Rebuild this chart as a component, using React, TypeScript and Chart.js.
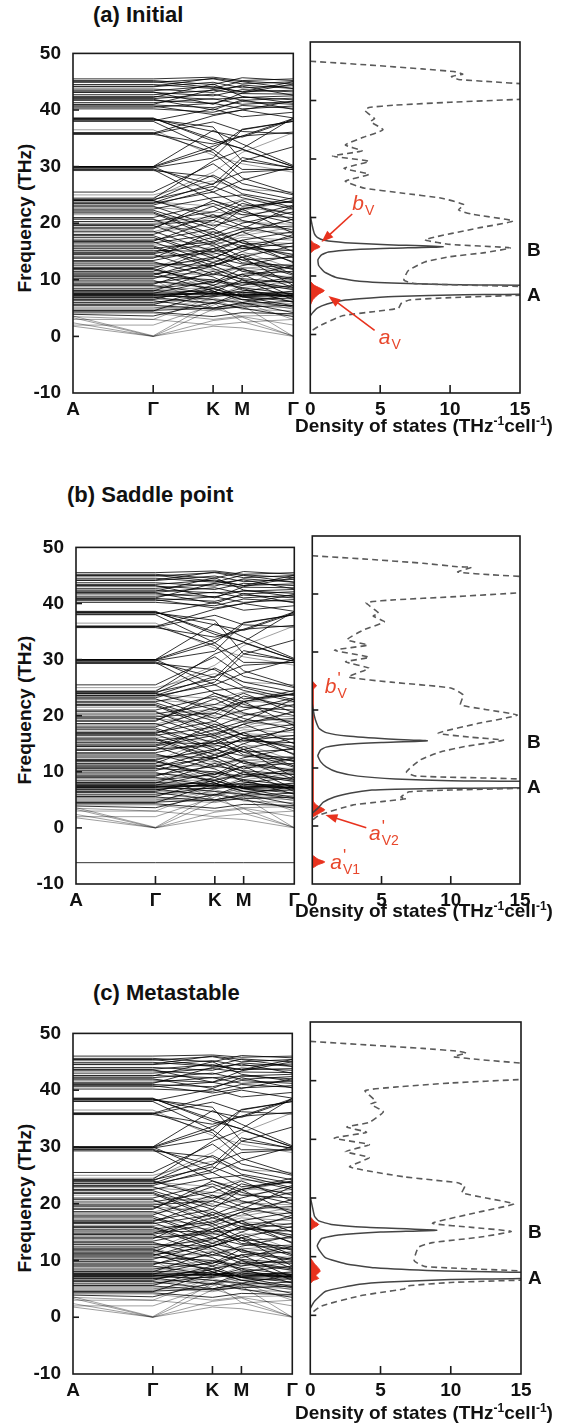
import React, { useEffect, useRef } from "react";
import { Chart, registerables } from "chart.js";

Chart.register(...registerables);

const FONT = '"Liberation Sans", Arial, Helvetica, sans-serif';
const RED = "#e8321e";
const RED_TEXT = "#e8472c";

// ---------- band-structure data: [A, Γ, K, M, Γ] ----------
const K_POS = [0, 0.364, 0.636, 0.768, 1];
const K_LABELS = ["A", "Γ", "K", "M", "Γ"];
const FREQ_TICKS = [-10, 0, 10, 20, 30, 40, 50];
const DOS_TICKS = [0, 5, 10, 15];

const TOP_A = [
  [45.5, 45.5, 45.8, 45.2, 45.5], [45.2, 45.2, 44.5, 45.7, 45.2], [44.9, 44.9, 45.5, 44.6, 45.0],
  [44.5, 44.5, 43.8, 45.1, 44.6], [44.1, 44.1, 44.9, 43.9, 44.3], [43.7, 43.7, 43.1, 44.4, 43.8],
  [43.4, 43.4, 44.2, 43.2, 43.5], [43.1, 43.1, 42.5, 43.6, 43.2], [42.7, 42.7, 43.5, 42.9, 42.8],
  [42.4, 42.4, 41.9, 42.2, 42.5], [42.0, 42.0, 42.8, 41.7, 42.1], [41.7, 41.7, 41.2, 42.3, 41.8],
  [41.3, 41.3, 42.0, 41.0, 41.5], [40.9, 40.9, 40.4, 41.5, 41.0], [40.5, 40.5, 41.2, 40.2, 40.7],
  [40.2, 40.2, 39.6, 40.8, 40.3], [45.0, 45.0, 44.0, 43.2, 45.0], [44.2, 44.2, 45.6, 45.0, 43.8],
  [43.2, 43.2, 41.0, 43.0, 44.6], [42.2, 42.2, 44.6, 42.4, 41.2], [41.0, 41.0, 43.6, 44.2, 42.6],
  [40.7, 40.7, 39.2, 40.0, 41.6], [41.9, 41.9, 40.0, 41.8, 40.1],
];
const TOP_C = [
  [46.0, 46.0, 46.2, 45.8, 46.0], [45.6, 45.6, 45.0, 46.1, 45.7], [45.3, 45.3, 45.9, 45.0, 45.4],
  [44.9, 44.9, 44.2, 45.5, 45.0], [44.5, 44.5, 45.2, 44.3, 44.6], [44.0, 44.0, 43.5, 44.8, 44.2],
  [43.7, 43.7, 44.5, 43.6, 43.8], [43.4, 43.4, 42.8, 43.9, 43.5], [43.0, 43.0, 43.8, 43.2, 43.1],
  [42.6, 42.6, 42.2, 42.5, 42.8], [42.2, 42.2, 43.0, 41.9, 42.4], [41.8, 41.8, 41.4, 42.5, 42.0],
  [41.4, 41.4, 42.2, 41.2, 41.6], [41.0, 41.0, 40.6, 41.7, 41.2], [40.6, 40.6, 41.4, 40.4, 40.8],
  [40.2, 40.2, 39.8, 41.0, 40.5], [45.4, 45.4, 44.3, 43.6, 45.4], [44.6, 44.6, 46.0, 45.4, 44.2],
  [43.6, 43.6, 41.4, 43.4, 45.0], [42.5, 42.5, 45.0, 42.8, 41.6], [41.2, 41.2, 44.0, 44.6, 43.0],
  [40.8, 40.8, 39.5, 40.3, 42.0], [42.0, 42.0, 40.3, 42.2, 40.4],
];
const BANDS_MID = [
  [38.6, 38.6, 34.5, 33.2, 38.6], [38.4, 38.4, 36.2, 35.2, 38.3], [38.1, 38.1, 40.2, 38.8, 39.6],
  [38.0, 38.0, 33.0, 36.6, 38.0], [38.5, 38.5, 34.9, 33.1, 30.0], [30.0, 30.0, 33.6, 35.4, 38.5],
  [35.8, 35.8, 37.9, 36.2, 35.8], [35.7, 35.7, 34.0, 35.4, 36.1], [30.0, 30.0, 36.4, 34.0, 30.2],
  [30.0, 30.0, 25.5, 27.6, 30.0], [29.9, 29.9, 33.0, 29.5, 29.5], [29.6, 29.6, 26.8, 31.6, 29.7],
  [29.3, 29.3, 28.2, 25.2, 23.6], [23.6, 23.6, 27.0, 29.0, 29.5], [24.0, 24.0, 28.5, 26.0, 24.2],
  [23.2, 23.2, 26.0, 31.0, 33.5], [38.3, 38.3, 37.0, 31.0, 29.8], [35.9, 35.9, 39.0, 40.0, 38.6],
  [29.8, 29.8, 31.5, 36.5, 38.0], [29.5, 29.5, 24.0, 22.5, 24.5], [24.3, 24.3, 31.0, 33.0, 30.0],
  [25.5, 25.5, 30.5, 27.0, 25.0], [36.0, 36.0, 32.5, 28.0, 25.2],
];
const BANDS_LOW = [
  [24.0, 24.0, 21.0, 22.5, 24.0], [23.5, 23.5, 25.5, 23.0, 23.8], [23.0, 23.0, 19.5, 21.0, 23.2],
  [22.5, 22.5, 24.5, 25.0, 22.8], [22.0, 22.0, 18.0, 20.0, 22.0], [21.0, 21.0, 23.5, 21.5, 21.0],
  [20.7, 20.7, 16.5, 18.5, 20.7], [20.3, 20.3, 22.0, 24.0, 20.5], [19.8, 19.8, 20.5, 19.0, 19.5],
  [19.2, 19.2, 23.0, 20.5, 18.8], [18.6, 18.6, 15.0, 17.0, 18.5], [18.0, 18.0, 21.5, 19.5, 17.5],
  [17.5, 17.5, 13.8, 16.0, 17.5], [17.0, 17.0, 19.0, 22.5, 18.2], [16.5, 16.5, 18.0, 15.5, 16.5],
  [16.0, 16.0, 12.5, 14.0, 16.0], [15.5, 15.5, 16.8, 18.5, 15.0], [15.2, 15.2, 15.0, 15.5, 15.2],
  [14.8, 14.8, 17.5, 16.0, 14.5], [14.5, 14.5, 11.0, 12.5, 14.3], [14.0, 14.0, 14.8, 13.5, 14.0],
  [13.4, 13.4, 15.5, 17.0, 13.0], [12.8, 12.8, 12.5, 10.5, 12.5], [12.2, 12.2, 14.0, 12.8, 12.0],
  [11.8, 11.8, 9.5, 11.0, 11.5], [11.0, 11.0, 12.5, 14.5, 11.0], [10.6, 10.6, 10.0, 9.0, 10.5],
  [10.2, 10.2, 13.0, 11.8, 10.2], [9.8, 9.8, 8.5, 9.5, 9.8], [9.4, 9.4, 11.0, 10.2, 9.5],
  [9.0, 9.0, 7.5, 8.0, 9.0], [8.5, 8.5, 9.5, 12.0, 8.6], [8.1, 8.1, 7.8, 7.2, 8.0],
  [7.7, 7.7, 7.5, 7.8, 7.6], [7.5, 7.5, 7.3, 7.4, 7.5], [7.3, 7.3, 7.6, 7.2, 7.3],
  [7.1, 7.1, 7.0, 7.5, 7.2], [6.8, 6.8, 8.0, 6.5, 6.8], [6.3, 6.3, 5.0, 5.8, 6.2],
  [6.0, 6.0, 7.2, 8.5, 6.0], [5.5, 5.5, 4.8, 5.2, 5.5], [4.6, 4.6, 5.0, 6.0, 4.2],
  [4.3, 4.3, 3.5, 4.2, 4.0], [3.9, 3.6, 6.0, 5.0, 3.5],
  [21.8, 21.8, 17.5, 19.0, 23.0], [19.0, 19.0, 24.0, 22.0, 20.0], [16.8, 16.8, 20.5, 23.5, 21.5],
  [13.8, 13.8, 18.5, 16.5, 14.0], [11.5, 11.5, 15.5, 13.5, 10.8], [9.2, 9.2, 12.5, 14.0, 9.0],
  [8.0, 8.0, 11.5, 9.5, 8.3], [6.5, 6.5, 9.0, 11.0, 7.0], [5.6, 5.6, 8.5, 7.0, 5.4],
  [4.5, 4.5, 7.8, 10.0, 6.5], [22.3, 22.3, 19.0, 16.5, 15.8], [19.6, 19.6, 16.0, 13.0, 12.5],
  [17.8, 17.8, 14.2, 11.5, 10.0], [15.8, 15.8, 12.0, 10.0, 8.5], [13.2, 13.2, 10.5, 8.2, 7.0],
  [11.2, 11.2, 8.0, 6.5, 5.2], [24.2, 24.2, 26.5, 24.5, 22.5], [16.7, 16.7, 13.0, 15.0, 18.0],
  [14.6, 14.6, 16.5, 14.0, 11.8], [10.8, 10.8, 13.8, 16.0, 13.2], [12.0, 12.0, 9.0, 7.0, 6.2],
  [7.6, 7.6, 9.8, 8.6, 7.5], [7.4, 7.4, 6.5, 6.0, 7.4], [7.2, 7.2, 8.4, 7.0, 7.2],
  [6.9, 6.9, 5.8, 7.8, 6.9],
];
const BANDS_FAINT = [
  [23.8, 23.8, 23.0, 24.2, 23.6], [22.8, 22.8, 22.0, 21.5, 22.5], [21.5, 21.5, 20.0, 22.8, 21.8],
  [20.0, 20.0, 21.2, 20.2, 19.8], [19.5, 19.5, 18.5, 17.8, 19.3], [18.3, 18.3, 19.8, 18.8, 18.2],
  [17.2, 17.2, 16.2, 17.5, 17.0], [16.2, 16.2, 15.5, 16.8, 16.4], [15.0, 15.0, 13.2, 14.5, 15.3],
  [14.2, 14.2, 14.5, 15.8, 14.4], [13.0, 13.0, 11.8, 12.0, 12.8], [12.5, 12.5, 13.6, 11.5, 12.3],
  [11.4, 11.4, 10.8, 12.2, 11.2], [10.4, 10.4, 11.6, 10.8, 10.6], [9.6, 9.6, 9.2, 8.6, 9.6],
  [8.8, 8.8, 10.0, 9.2, 8.8], [8.3, 8.3, 8.6, 9.8, 8.2], [7.9, 7.9, 7.4, 7.0, 7.9],
  [6.6, 6.6, 6.0, 7.0, 6.6], [5.8, 5.8, 6.8, 5.6, 5.8], [5.2, 5.2, 4.5, 5.5, 5.0],
  [5.0, 5.0, 6.5, 4.8, 4.5], [4.8, 4.8, 5.8, 6.6, 4.8], [4.1, 4.1, 3.0, 3.6, 3.8],
  [3.5, 3.0, 2.0, 2.5, 3.0], [18.5, 18.5, 21.0, 22.2, 24.0], [24.0, 24.0, 21.5, 20.4, 18.5],
  [12.0, 12.0, 16.0, 18.0, 20.8], [20.8, 20.8, 17.0, 15.0, 12.0], [3.0, 3.0, 7.0, 9.0, 12.5],
  [12.5, 12.5, 8.0, 6.0, 3.0], [10.0, 10.0, 5.0, 3.5, 2.0], [2.0, 2.0, 5.5, 7.5, 10.5],
  [3.3, 0.0, 4.8, 5.5, 0.0], [2.4, 0.0, 2.8, 3.4, 0.0], [1.8, 0.0, 1.8, 1.5, 0.0],
  [3.6, 0.1, 6.0, 2.6, 0.1], [36.5, 36.5, 32.0, 30.5, 29.0], [24.5, 24.5, 29.0, 32.5, 36.0],
  [25.0, 25.0, 27.5, 26.0, 25.5],
];
const SOFT_MODE_B = [[-6.2, -6.2, -6.2, -6.2, -6.2]];

// ---------- DOS data: [dos, frequency] ----------
const DASH_A = [
  [0, 46.7], [4, 46.1], [8, 45.4], [10.4, 44.9], [10.9, 44.5], [10.1, 44.1], [10.6, 43.6], [13, 43.2], [15.5, 42.8], [17, 42.5],
  [17, 40.4], [15, 40.2], [10, 39.7], [6, 39.2], [4.2, 38.8], [3.9, 38.3], [4.6, 36.9], [4.3, 36.4], [5.2, 35.0], [3.8, 33.7],
  [2.5, 32.4], [3.7, 31.4], [1.6, 30.5], [4.2, 29.6], [2.4, 28.4], [4.2, 27.4], [2.5, 26.2], [3.9, 25.0], [6.5, 24.2], [9.4, 23.3],
  [11, 22.2], [10.6, 21.3], [11.5, 20.6], [14.5, 19.4], [12, 18.2], [8.2, 16.2], [10, 15.4], [14.3, 14.8], [12.5, 14.0], [10, 13.3],
  [8.2, 12.4], [7, 10.9], [6.7, 9.3], [7.5, 8.7], [17, 8.0],
  [17, 6.8], [15, 6.7], [10, 6.3], [7.1, 5.9], [6.5, 5.3], [6.3, 4.5], [4.5, 3.9], [2.3, 3.2], [0.6, 1.4], [0, 0.5],
];
const SOLID_A = [
  [0, 20.3], [0.15, 18.5], [0.3, 17.2], [0.5, 16.6], [1, 16.1], [2.5, 15.7], [5.5, 15.35], [9.5, 15.0], [6, 14.75], [3, 14.5],
  [1.3, 14.1], [0.8, 13.6], [0.55, 12.8], [0.6, 11.8], [1.0, 10.7], [1.8, 9.8], [3.5, 9.1], [7, 8.7], [12, 8.45], [17, 8.3],
  [17, 7.0], [11, 6.8], [6, 6.5], [3.5, 6.1], [2.3, 5.8], [1.2, 5.2], [0.5, 4.5], [0.2, 3.8], [0, 3.2],
];
const RED_A1 = [[0, 16.2], [0.2, 15.7], [0.7, 15.0], [0.3, 14.5], [0, 13.9]];
const RED_A2 = [[0, 9.1], [0.3, 8.4], [1.0, 7.5], [0.6, 6.9], [0.2, 6.0], [0, 5.0]];

const DASH_B = [
  [0, 46.6], [4, 46.0], [8, 45.3], [10.5, 44.7], [11.5, 44.6], [10.5, 43.8], [13, 43.3], [16, 42.9], [17, 42.7],
  [17, 40.4], [15, 40.2], [10, 39.5], [6, 39.0], [3.9, 38.5], [4.8, 36.7], [4.4, 36.2], [5.2, 35.2], [3.7, 33.8], [2.5, 32.1],
  [4.0, 31.2], [1.6, 30.3], [4.1, 29.1], [2.4, 28.3], [4.1, 27.2], [2.6, 25.7], [5.7, 24.8], [10, 23.8], [10.9, 22.6],
  [10.7, 20.9], [12.5, 20.1], [14.8, 19.1], [12, 17.7], [9.1, 16.0], [11.5, 15.3], [13.8, 14.8], [11, 13.7], [9.3, 12.8],
  [7.8, 11.4], [6.8, 9.3], [7.5, 8.6], [17, 7.9],
  [17, 6.6], [15, 6.5], [10, 6.2], [7, 5.9], [6.4, 5.0], [6.8, 4.7], [5, 4.2], [2.9, 3.6], [0.5, 1.9], [0, 1.0],
];
const SOLID_B = [
  [0, 21], [0.15, 19], [0.3, 17.8], [0.5, 16.8], [1, 16.1], [2.5, 15.5], [5.5, 15.0], [8.3, 14.7], [5, 14.4], [2.5, 14.1],
  [1, 13.6], [0.6, 13.1], [0.4, 12.1], [0.6, 11.1], [1.0, 10.2], [1.8, 9.3], [3.3, 8.6], [6, 8.1], [10, 7.8], [17, 7.6],
  [17, 6.7], [10, 6.5], [6, 6.35], [4.3, 6.2], [2.8, 5.7], [1.6, 5.0], [0.8, 4.1], [0.5, 3.3], [0, 2.2],
];
const RED_B1 = [[0, 25.0], [0.15, 24.6], [0.3, 24.2], [0.15, 23.8], [0, 23.4]];
const RED_B2 = [[0, 4.5], [0.3, 3.6], [0.9, 2.8], [0.5, 2.2], [0, 1.5]];
const RED_B3 = [[0, -5.0], [0.4, -5.7], [0.9, -6.2], [0.4, -6.7], [0, -7.3]];
const RED_LINE_B = [[0.06, 24.0], [0.06, 3.0]];

const DASH_C = [
  [0, 46.7], [4, 46.1], [8, 45.5], [10.6, 45.0], [11.1, 44.7], [10.2, 44.1], [12, 43.6], [15.5, 42.9], [17, 42.7],
  [17, 40.4], [15, 40.2], [10, 39.6], [6, 38.9], [3.9, 38.3], [4.7, 36.4], [4.3, 36.0], [5.2, 34.7], [4.2, 32.9], [2.6, 32.1],
  [4.0, 31.2], [1.7, 30.2], [4.2, 29.1], [2.5, 27.9], [4.2, 26.9], [2.8, 25.3], [6.7, 23.6], [10.5, 22.6], [11, 22.0],
  [10.8, 20.9], [12.5, 20.0], [14.5, 19.0], [12, 17.6], [8.7, 15.7], [11.5, 15.0], [14.3, 14.3], [12, 13.3], [8.7, 12.4],
  [7.7, 11.6], [7.4, 9.3], [8.2, 8.3], [17, 7.3],
  [17, 6.1], [15, 6.0], [10, 5.6], [6.9, 5.0], [6.7, 4.5], [5, 3.9], [3.5, 3.3], [0.8, 1.6], [0, 0.2],
];
const SOLID_C = [
  [0, 20.2], [0.15, 18.5], [0.3, 16.9], [0.6, 16.1], [1.5, 15.5], [4, 15.0], [9, 14.5], [5, 14.2], [2, 13.7], [0.8, 13.1],
  [0.5, 11.9], [0.7, 10.9], [1.1, 9.8], [2.5, 8.8], [4.6, 8.1], [9, 7.6], [17, 7.2],
  [17, 6.4], [10, 6.1], [5.5, 5.7], [3.5, 5.3], [1.1, 4.1], [0.3, 2.4], [0, 1.2],
];
const RED_C1 = [[0, 16.8], [0.3, 16.0], [0.6, 15.5], [0.3, 15.0], [0, 14.5]];
const RED_C2 = [[0, 9.8], [0.3, 8.8], [0.6, 8.0], [0.7, 7.5], [0.4, 6.8], [0.6, 6.3], [0.2, 5.9], [0, 5.4]];

const PEAKS_A = [{ text: "B", f: 14.3 }, { text: "A", f: 6.6 }];
const PEAKS_B = [{ text: "B", f: 14.3 }, { text: "A", f: 6.6 }];
const PEAKS_C = [{ text: "B", f: 14.0 }, { text: "A", f: 6.2 }];

const PANELS = [
  {
    title: "(a) Initial", titleLeft: 93, titleY: 15, top: 42, bottom: 393,
    bandLeft: 73, bandRight: 294, dosLeft: 308, dosRight: 520, dosTitleY: 426,
    bandsTop: TOP_A, extra: [], dash: DASH_A, solid: SOLID_A, red: [RED_A1, RED_A2], redLines: [],
    peaks: PEAKS_A,
    arrows: [{ from: [3.0, 20.6], to: [0.8, 15.8] }, { from: [4.6, 0.7], to: [1.3, 6.6] }],
    labels: [{ at: [3.0, 22.3], base: "b", sub: "V", prime: false }, { at: [4.9, -0.7], base: "a", sub: "V", prime: false }],
  },
  {
    title: "(b) Saddle point", titleLeft: 67, titleY: 495, top: 536, bottom: 884,
    bandLeft: 76, bandRight: 295, dosLeft: 310, dosRight: 520, dosTitleY: 911,
    bandsTop: TOP_A, extra: SOFT_MODE_B, dash: DASH_B, solid: SOLID_B, red: [RED_B1, RED_B2, RED_B3], redLines: [RED_LINE_B],
    peaks: PEAKS_B,
    arrows: [{ from: [3.9, -0.3], to: [0.95, 1.9] }],
    labels: [
      { at: [0.9, 24.0], base: "b", sub: "V", prime: true },
      { at: [4.1, -1.4], base: "a", sub: "V2", prime: true },
      { at: [1.3, -6.4], base: "a", sub: "V1", prime: true },
    ],
  },
  {
    title: "(c) Metastable", titleLeft: 93, titleY: 993, top: 1022, bottom: 1374,
    bandLeft: 73, bandRight: 293, dosLeft: 308, dosRight: 521, dosTitleY: 1413,
    bandsTop: TOP_C, extra: [], dash: DASH_C, solid: SOLID_C, red: [RED_C1, RED_C2], redLines: [],
    peaks: PEAKS_C, arrows: [], labels: [],
  },
];

function bandPoints(bands: number[][]) {
  const pts: any[] = [];
  for (const b of bands) {
    b.forEach((f, i) => pts.push({ x: K_POS[i], y: f }));
    pts.push({ x: 1, y: null });
  }
  return pts;
}
const xy = (arr: number[][]) => arr.map(([d, f]) => ({ x: d, y: f }));

function strokeLine(ctx: any, x1: number, y1: number, x2: number, y2: number) {
  ctx.beginPath();
  ctx.moveTo(x1, y1);
  ctx.lineTo(x2, y2);
  ctx.stroke();
}

const bandDeco = {
  id: "bandDeco",
  afterDraw(chart: any) {
    const { ctx, chartArea: a, scales } = chart;
    ctx.save();
    ctx.strokeStyle = "#1a1a1a";
    ctx.lineWidth = 1.6;
    for (const f of FREQ_TICKS.slice(1, -1)) {
      const py = scales.y.getPixelForValue(f);
      strokeLine(ctx, a.left, py, a.left + 6, py);
    }
    for (const k of K_POS.slice(1, -1)) {
      const px = scales.x.getPixelForValue(k);
      strokeLine(ctx, px, a.bottom, px, a.bottom - 8);
    }
    ctx.strokeRect(a.left, a.top, a.right - a.left, a.bottom - a.top);
    ctx.restore();
  },
};

function drawArrow(ctx: any, x1: number, y1: number, x2: number, y2: number) {
  const ang = Math.atan2(y2 - y1, x2 - x1);
  const L = 12, W = 4.5;
  const c = Math.cos(ang), s = Math.sin(ang);
  ctx.strokeStyle = RED;
  ctx.fillStyle = RED;
  ctx.lineWidth = 1.6;
  strokeLine(ctx, x1, y1, x2 - L * 0.8 * c, y2 - L * 0.8 * s);
  ctx.beginPath();
  ctx.moveTo(x2, y2);
  ctx.lineTo(x2 - L * c + W * s, y2 - L * s - W * c);
  ctx.lineTo(x2 - L * c - W * s, y2 - L * s + W * c);
  ctx.closePath();
  ctx.fill();
}

function drawRedLabel(ctx: any, px: number, py: number, base: string, sub: string, prime: boolean) {
  ctx.fillStyle = RED_TEXT;
  ctx.textBaseline = "middle";
  ctx.textAlign = "left";
  ctx.font = `italic 21px ${FONT}`;
  ctx.fillText(base, px, py);
  const w = ctx.measureText(base).width;
  if (prime) {
    ctx.font = `17px ${FONT}`;
    ctx.fillText("'", px + w + 1, py - 7);
  }
  ctx.font = `14px ${FONT}`;
  ctx.fillText(sub, px + w + 1, py + 7);
}

function dosDeco(panel: any) {
  return {
    id: "dosDeco",
    afterDraw(chart: any) {
      const { ctx, chartArea: a, scales } = chart;
      const X = scales.x, Y = scales.y;
      ctx.save();
      ctx.strokeStyle = "#1a1a1a";
      ctx.lineWidth = 1.6;
      for (const f of FREQ_TICKS.slice(1, -1)) {
        const py = Y.getPixelForValue(f);
        strokeLine(ctx, a.left, py, a.left + 6, py);
      }
      for (const d of DOS_TICKS.slice(1, -1)) {
        const px = X.getPixelForValue(d);
        strokeLine(ctx, px, a.bottom, px, a.bottom - 8);
      }
      ctx.strokeRect(a.left, a.top, a.right - a.left, a.bottom - a.top);
      ctx.fillStyle = "#111";
      ctx.font = `bold 19px ${FONT}`;
      ctx.textBaseline = "middle";
      ctx.textAlign = "left";
      for (const p of panel.peaks) ctx.fillText(p.text, a.right + 7, Y.getPixelForValue(p.f));
      for (const ar of panel.arrows) {
        drawArrow(ctx, X.getPixelForValue(ar.from[0]), Y.getPixelForValue(ar.from[1]),
          X.getPixelForValue(ar.to[0]), Y.getPixelForValue(ar.to[1]));
      }
      for (const l of panel.labels) {
        drawRedLabel(ctx, X.getPixelForValue(l.at[0]), Y.getPixelForValue(l.at[1]), l.base, l.sub, l.prime);
      }
      ctx.restore();
    },
  };
}

const tickFont = { family: FONT, size: 19, weight: "bold" as const };

function Panel({ p }: { p: any }) {
  const bandRef = useRef<HTMLCanvasElement>(null);
  const dosRef = useRef<HTMLCanvasElement>(null);
  const cTop = p.top - 12;
  const cH = p.bottom - p.top + 12 + 50;
  const bandW = p.bandRight + 10;
  const dosL = p.dosLeft - 8;
  const dosW = 568 - dosL;

  useEffect(() => {
    const common = { showLine: true, pointRadius: 0, fill: false, spanGaps: false };
    const band = new Chart(bandRef.current as any, {
      type: "line",
      data: {
        datasets: [
          { ...common, data: bandPoints(BANDS_FAINT), borderColor: "rgba(0,0,0,0.38)", borderWidth: 1, tension: 0 },
          {
            ...common,
            data: bandPoints([...p.bandsTop, ...BANDS_MID, ...BANDS_LOW, ...p.extra]),
            borderColor: "rgba(0,0,0,0.8)", borderWidth: 1, tension: 0,
          },
        ],
      },
      options: {
        animation: false, responsive: false, devicePixelRatio: 1, events: [],
        layout: { padding: { top: 12, right: 10, left: 0, bottom: 0 } },
        plugins: { legend: { display: false }, tooltip: { enabled: false } },
        scales: {
          x: {
            type: "linear", min: 0, max: 1,
            afterBuildTicks: (s: any) => { s.ticks = K_POS.map((v) => ({ value: v })); },
            afterFit: (s: any) => { s.height = 50; },
            ticks: { autoSkip: false, maxRotation: 0, padding: 5, color: "#111", font: tickFont,
              callback: (_v: any, i: number) => K_LABELS[i] },
            grid: { display: false, drawTicks: false }, border: { display: false },
          },
          y: {
            type: "linear", min: -10, max: 50,
            afterBuildTicks: (s: any) => { s.ticks = FREQ_TICKS.map((v) => ({ value: v })); },
            afterFit: (s: any) => { s.width = p.bandLeft; },
            ticks: { padding: 12, color: "#111", font: tickFont, callback: (v: any) => String(v) },
            grid: { display: false, drawTicks: false }, border: { display: false },
          },
        },
      } as any,
      plugins: [bandDeco],
    });

    const datasets: any[] = [
      { ...common, data: xy(p.dash), borderColor: "#5a5a5a", borderWidth: 1.6, borderDash: [6, 4], tension: 0.15 },
      { ...common, data: xy(p.solid), borderColor: "#444", borderWidth: 1.5, tension: 0.15 },
    ];
    for (const r of p.red) {
      datasets.push({ ...common, data: xy(r), borderColor: RED, backgroundColor: RED, borderWidth: 1, fill: "shape", tension: 0.2 });
    }
    for (const r of p.redLines) {
      datasets.push({ ...common, data: xy(r), borderColor: RED, borderWidth: 1.5, tension: 0 });
    }
    const dos = new Chart(dosRef.current as any, {
      type: "line",
      data: { datasets },
      options: {
        animation: false, responsive: false, devicePixelRatio: 1, events: [],
        layout: { padding: { top: 12, right: 568 - p.dosRight, left: 0, bottom: 0 } },
        plugins: { legend: { display: false }, tooltip: { enabled: false } },
        scales: {
          x: {
            type: "linear", min: 0, max: 15,
            afterBuildTicks: (s: any) => { s.ticks = DOS_TICKS.map((v) => ({ value: v })); },
            afterFit: (s: any) => { s.height = 50; },
            ticks: { autoSkip: false, maxRotation: 0, padding: 5, color: "#111", font: tickFont,
              callback: (v: any) => String(v) },
            grid: { display: false, drawTicks: false }, border: { display: false },
          },
          y: {
            type: "linear", min: -10, max: 50,
            afterBuildTicks: (s: any) => { s.ticks = FREQ_TICKS.map((v) => ({ value: v })); },
            afterFit: (s: any) => { s.width = 8; },
            ticks: { display: false },
            grid: { display: false, drawTicks: false }, border: { display: false },
          },
        },
      } as any,
      plugins: [dosDeco(p)],
    });
    return () => { band.destroy(); dos.destroy(); };
  }, []);

  const midY = (p.top + p.bottom) / 2;
  const text: any = { position: "absolute", fontFamily: FONT, color: "#111", fontWeight: "bold", whiteSpace: "nowrap" };
  return (
    <>
      <div style={{ ...text, left: p.titleLeft, top: p.titleY - 13, fontSize: 22, lineHeight: "26px" }}>{p.title}</div>
      <div style={{ ...text, left: 25 - 100, top: midY - 12, width: 200, height: 24, lineHeight: "24px",
        textAlign: "center", fontSize: 19, transform: "rotate(-90deg)" }}>Frequency (THz)</div>
      <canvas ref={bandRef} width={bandW} height={cH}
        style={{ position: "absolute", left: 0, top: cTop, width: bandW, height: cH }} />
      <canvas ref={dosRef} width={dosW} height={cH}
        style={{ position: "absolute", left: dosL, top: cTop, width: dosW, height: cH }} />
      <div style={{ ...text, left: 424 - 160, width: 320, textAlign: "center", top: p.dosTitleY - 12,
        height: 24, lineHeight: "24px", fontSize: 19 }}>
        Density of states (THz<sup style={{ fontSize: 12, lineHeight: 0 }}>-1</sup>cell<sup style={{ fontSize: 12, lineHeight: 0 }}>-1</sup>)
      </div>
    </>
  );
}

export default function App() {
  return (
    <div style={{ position: "absolute", left: 0, top: 0, width: 568, height: 1427, background: "#fff", overflow: "hidden" }}>
      {PANELS.map((p, i) => <Panel key={i} p={p} />)}
    </div>
  );
}
